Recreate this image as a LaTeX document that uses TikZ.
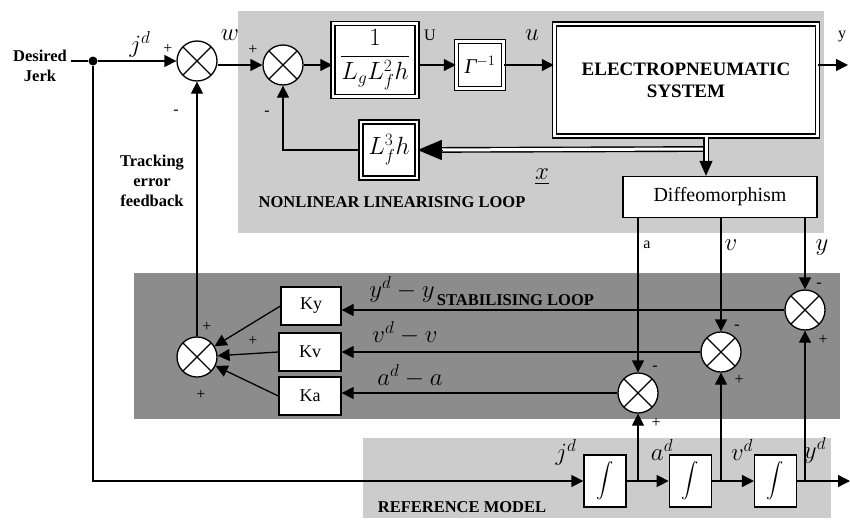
\documentclass[tikz,border=0pt]{standalone}
\usepackage{amsmath}
\usepackage{fontspec}
\setmainfont{Liberation Serif}
\usetikzlibrary{arrows.meta,positioning}
\definecolor{loopgrey}{gray}{0.8}
\definecolor{stabgrey}{gray}{0.55}

\begin{document}
\begin{tikzpicture}[
    x=1pt, y=-1pt,
    line width=1.3pt,
    node distance=42pt,
    sumjn/.style={circle, draw, fill=white, minimum size=40pt, inner sep=0pt,
        path picture={\draw (path picture bounding box.north west) -- (path picture bounding box.south east)
                            (path picture bounding box.north east) -- (path picture bounding box.south west);}},
    dblbox/.style={rectangle, draw, double, double distance=2.4pt, line width=1.5pt, fill=white, inner sep=2pt},
    gainbox/.style={rectangle, draw, fill=white, minimum width=62pt, minimum height=38pt, font=\fontsize{18}{20}\selectfont},
    intbox/.style={rectangle, draw, fill=white, minimum width=42pt, minimum height=52pt, font=\fontsize{19}{22}\selectfont},
    boldlbl/.style={font=\fontsize{16.5}{20}\selectfont\bfseries, align=center},
    sign/.style={font=\fontsize{16}{18}\selectfont},
    mlbl/.style={font=\fontsize{23}{27}\selectfont},
    arrow/.style={-{Triangle[length=12pt,width=12pt]}},
    dblline/.style={double, double distance=3pt, line width=1.4pt}
]
    \useasboundingbox (0,0) rectangle (850,519);

    % shaded loop areas
    \fill[loopgrey] (238,11) rectangle (824,233);
    \fill[stabgrey] (134,273) rectangle (840,419);
    \fill[loopgrey] (363,438) rectangle (831,518);

    % input and tracking error sum
    \node[boldlbl] (jerk) at (40,66) {Desired\\Jerk};
    \node[circle, fill, inner sep=0pt, minimum size=9pt] (split) at (93,61) {};
    \node[sumjn] (sumj) at (197,61) {};
    \node[sumjn] (sumw) at (283,65) {};

    % nonlinear linearising loop
    \node[dblbox, minimum width=84pt, minimum height=73pt, font=\fontsize{24}{28}\selectfont] (decoup) at (375,60) {$\dfrac{1}{L_gL_f^2h}$};
    \node[dblbox, minimum width=47pt, minimum height=47pt, font=\fontsize{21}{24}\selectfont] (ginv) at (480,65) {{\itshape Γ}$^{-1}$};
    \node[dblbox, minimum width=263pt, minimum height=112pt, font=\fontsize{19}{22}\selectfont\bfseries, align=center] (plant) at (686,80) {ELECTROPNEUMATIC\\SYSTEM};
    \node[dblbox, minimum width=56pt, minimum height=56pt, font=\fontsize{23}{26}\selectfont] (lf3) at (389,150) {$L_f^3h$};
    \node[draw, fill=white, minimum width=194pt, minimum height=41pt, font=\fontsize{20}{24}\selectfont] (diffeo) at (720,197) {Diffeomorphism};
    \coordinate (xsplit) at (706,149);
    \coordinate (yout) at (848,65);

    % stabilising loop
    \node[sumjn] (sumy) at (805,310) {};
    \node[sumjn] (sumv) at (721,352) {};
    \node[sumjn] (suma) at (638,393) {};
    \node[sumjn] (sumk) at (197,357) {};
    \node[gainbox, minimum width=60pt] (ky) at (311,306) {Ky};
    \node[gainbox] (kv) at (310,352) {Kv};
    \node[gainbox] (ka) at (310,396) {Ka};

    % reference model
    \node[intbox] (int1) at (605,481) {$\displaystyle\int$};
    \node[intbox, right=of int1] (int2) {$\displaystyle\int$};
    \node[intbox, right=of int2] (int3) {$\displaystyle\int$};
    \coordinate (ydout) at (850,481);

    % forward path
    \draw (jerk.east |- split) -- (split);
    \draw[arrow] (split) -- (sumj.west);
    \draw[arrow] (sumj.east |- sumw) -- (sumw.west);
    \draw[arrow] (sumw.east) -- (sumw.east -| decoup.west);
    \draw[arrow] (decoup.east |- ginv) -- (ginv.west);
    \draw[arrow] (ginv.east) -- (ginv.east -| plant.west);
    \draw[arrow] (plant.east |- ginv) -- (yout);

    % state feedback (double lines, tips drawn on their own)
    \draw[dblline, shorten >=22pt] (xsplit) -- (lf3.east);
    \draw[dblline, shorten >=13pt] (plant.south -| xsplit) -- (diffeo.north -| xsplit);
    \draw[line width=1pt, -{Triangle[length=24pt,width=20pt]}] ([xshift=24pt]lf3.east) -- (lf3.east);
    \draw[line width=1pt, -{Triangle[length=15pt,width=13pt]}] ([yshift=15pt]diffeo.north -| xsplit) -- (diffeo.north -| xsplit);
    \draw[arrow] (lf3.west) -| (sumw.south);

    % outputs of the diffeomorphism
    \draw[arrow] (diffeo.south -| suma) -- (suma.north);
    \draw[arrow] (diffeo.south -| sumv) -- (sumv.north);
    \draw[arrow] (diffeo.south -| sumy) -- (sumy.north);

    % errors to gains
    \draw[arrow] (sumy.west) -- (sumy.west -| ky.east);
    \draw[arrow] (sumv.west) -- (sumv.west -| kv.east);
    \draw[arrow] (suma.west) -- (suma.west -| ka.east);
    \draw[arrow] (ky.west) -- (sumk);
    \draw[arrow] (kv.west) -- (sumk);
    \draw[arrow] (ka.west) -- (sumk);
    \draw[arrow] (sumk.north) -- (sumj.south);

    % reference model chain
    \draw[arrow] (split) |- (int1.west);
    \draw[arrow] (int1.east) -- (int2.west);
    \draw[arrow] (int2.east) -- (int3.west);
    \draw[arrow] (int3.east) -- (ydout);
    \draw[arrow] (int1.east -| suma) -- (suma.south);
    \draw[arrow] (int2.east -| sumv) -- (sumv.south);
    \draw[arrow] (int3.east -| sumy) -- (sumy.south);

    % signs
    \node[sign] (pj) at (168,49) {+};
    \node[sign] (mj) at (176,112) {-};
    \node[sign] (pw) at (253,50) {+};
    \node[sign] (mw) at (267,113) {-};
    \node[sign] (my) at (819,285) {-};
    \node[sign] (py) at (823,340) {+};
    \node[sign] (mv) at (737,327) {-};
    \node[sign] (pv) at (739,380) {+};
    \node[sign] (ma) at (655,368) {-};
    \node[sign] (pa) at (656,423) {+};
    \node[sign] (pky) at (207,327) {+};
    \node[sign] (pkv) at (253,341) {+};
    \node[sign] (pka) at (201,395) {+};

    % signal labels
    \node[mlbl] (ljd) at (140,44) {$j^d$};
    \node[mlbl] (lw) at (230,35) {$w$};
    \node[sign] (lU) at (430,35) {U};
    \node[mlbl] (lu) at (532,35) {$u$};
    \node[sign] (ly) at (842,37) {y};
    \node[font=\fontsize{28}{32}\selectfont] (lx) at (542,177) {$\underline{x}$};
    \node[sign] (la) at (647,245) {a};
    \node[mlbl] (lv) at (731,245) {$v$};
    \node[mlbl] (lyy) at (822,248) {$y$};
    \node[mlbl] (ley) at (402,289) {$y^d-y$};
    \node[mlbl] (lev) at (405,333) {$v^d-v$};
    \node[mlbl] (lea) at (410,376) {$a^d-a$};
    \node[mlbl] (rjd) at (566,452) {$j^d$};
    \node[mlbl] (rad) at (662,450) {$a^d$};
    \node[mlbl] (rvd) at (742,450) {$v^d$};
    \node[mlbl] (ryd) at (815,450) {$y^d$};

    % area titles
    \node[boldlbl] (tnl) at (392,202) {NONLINEAR LINEARISING LOOP};
    \node[boldlbl, anchor=west] (tst) at (433,300) {STABILISING LOOP};
    \node[boldlbl] (tref) at (462,507) {REFERENCE MODEL};
    \node[boldlbl] (ttrack) at (152,181) {Tracking\\error\\feedback};
\end{tikzpicture}
\end{document}
